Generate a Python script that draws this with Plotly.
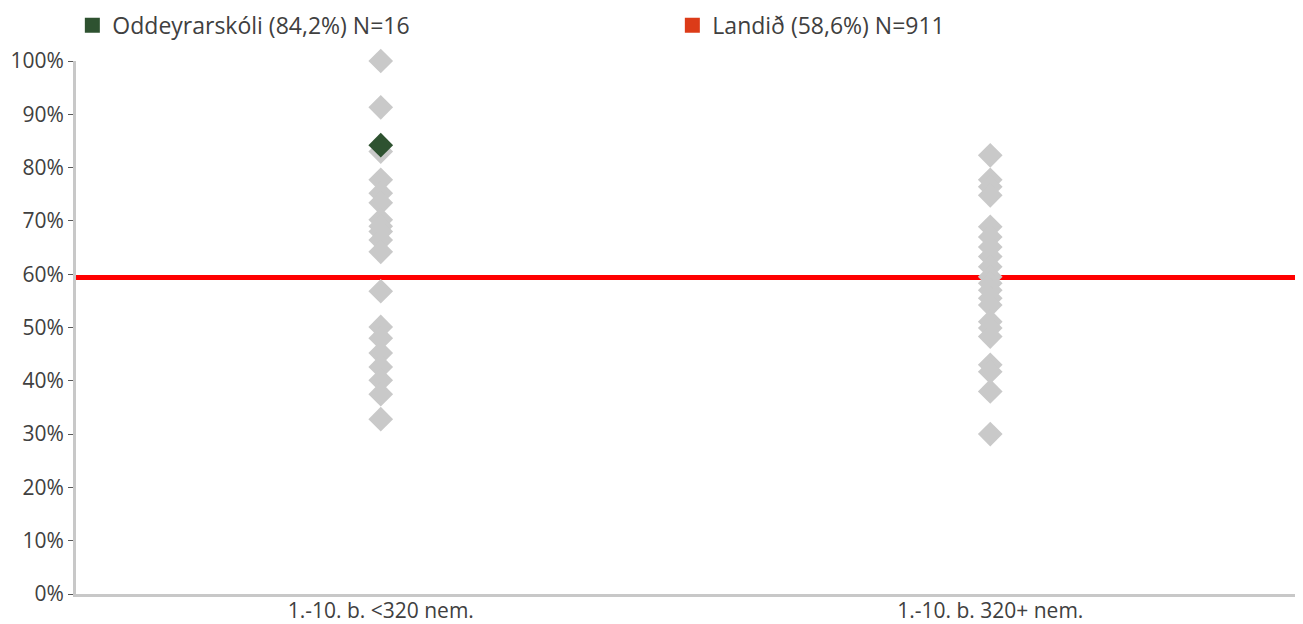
import plotly.graph_objects as go

# data
categories = ["1.-10. b. <320 nem.", "1.-10. b. 320+ nem."]

small_schools = [100, 91.3, 83.0, 77.7, 75.2, 73.4, 70.2, 69.0, 68.0, 66.4, 64.2,
                 56.8, 50.1, 48.0, 45.2, 42.6, 40.1, 37.5, 32.8]
large_schools = [82.3, 77.7, 76.4, 74.8, 68.9, 67.0, 65.1, 63.3, 61.4, 59.5,
                 58.3, 57.0, 55.5, 54.2, 51.1, 49.9, 48.3, 43.0, 41.7, 38.0, 30.0]

school_name = "Oddeyrarskóli (84,2%) N=16"
school_value = 84.2
school_cat = 0

country_name = "Landið (58,6%) N=911"
country_line = 59.4

GREY = "#c9c9c9"
GREEN = "#2e5230"
RED_LEGEND = "#dc3b18"
RED_LINE = "#ff0000"
TEXT = "#404040"

fig = go.Figure()

fig.add_trace(go.Scatter(
    x=[0] * len(small_schools), y=small_schools, mode="markers",
    marker=dict(symbol="diamond", size=19, color=GREY),
    showlegend=False, hoverinfo="y", cliponaxis=False))
fig.add_trace(go.Scatter(
    x=[1] * len(large_schools), y=large_schools, mode="markers",
    marker=dict(symbol="diamond", size=19, color=GREY),
    showlegend=False, hoverinfo="y", cliponaxis=False))

fig.add_trace(go.Scatter(
    x=[school_cat], y=[school_value], mode="markers", name=school_name,
    marker=dict(symbol="diamond", size=19, color=GREEN), showlegend=False,
    cliponaxis=False))

# legend-only entries (square swatches like the original)
fig.add_trace(go.Scatter(
    x=[None], y=[None], mode="markers", name=school_name,
    marker=dict(symbol="square", size=15, color=GREEN)))
fig.add_trace(go.Scatter(
    x=[None], y=[None], mode="markers", name=country_name,
    marker=dict(symbol="square", size=15, color=RED_LEGEND)))

fig.add_hline(y=country_line, line=dict(color=RED_LINE, width=5), layer="below")

# page has an 8px body margin, so the figure is a bit smaller than the window
fig.update_layout(
    width=1295, height=616,
    margin=dict(l=68, r=8, t=53, b=30, autoexpand=False),
    paper_bgcolor="white", plot_bgcolor="white",
    font=dict(family="Open Sans", size=21, color=TEXT),
    legend=dict(orientation="h", x=-0.003, xanchor="left", y=1.067, yanchor="middle",
                entrywidth=555, entrywidthmode="pixels",
                font=dict(size=23, color=TEXT)),
    xaxis=dict(range=[-0.5, 1.5], tickvals=[0, 1], ticktext=categories,
               tickfont=dict(size=21), ticklabelstandoff=-4,
               showgrid=False, zeroline=False, showline=True,
               linecolor="#c8c8c8", linewidth=3, ticks=""),
    yaxis=dict(range=[0, 100], tickmode="linear", tick0=0, dtick=10, ticksuffix="%",
               showgrid=False, zeroline=False, showline=True,
               linecolor="#c8c8c8", linewidth=3,
               ticks="outside", ticklen=5, tickcolor="#595959", tickwidth=1),
)

fig.write_html("out.html")
